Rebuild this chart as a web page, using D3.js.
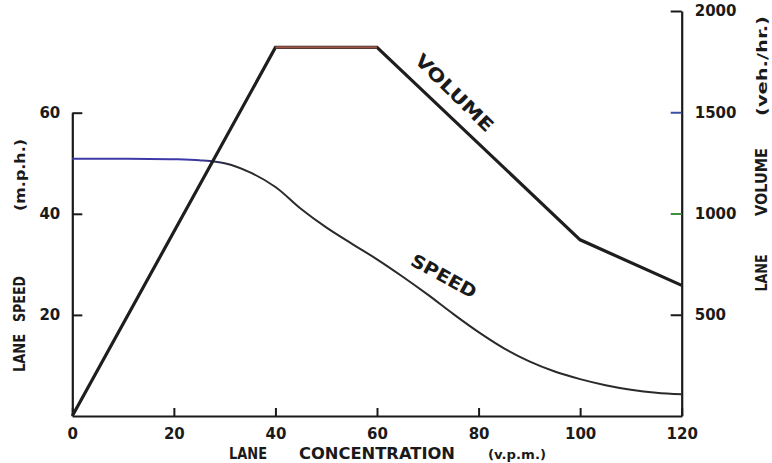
<!DOCTYPE html>
<html>
<head>
<meta charset="utf-8">
<script src="https://cdn.jsdelivr.net/npm/d3@7"></script>
<style>
  html, body { margin: 0; padding: 0; background: #fff; }
  svg { display: block; }
  text { font-family: "DejaVu Sans", sans-serif; font-weight: bold; fill: #1a1a1a; }
</style>
</head>
<body>
<svg id="chart" width="772" height="463"></svg>
<script>
// Lane volume (veh./hr.) against lane concentration (v.p.m.)
const volumeConcentration = [0, 40, 60, 100, 120];
const volumeValues = [0, 1820, 1820, 870, 645];

// Lane speed (m.p.h.) against lane concentration (v.p.m.)
const speedConcentration = [0, 10, 20, 25, 30, 35, 40, 45, 50, 55, 60, 65, 70, 75, 80, 85, 90, 95, 100, 105, 110, 115, 120];
const speedValues = [50.9, 50.9, 50.8, 50.6, 50.0, 48.2, 45.3, 41.0, 37.3, 34.1, 31.0, 27.6, 24.0, 20.2, 16.6, 13.4, 10.8, 8.8, 7.3, 6.1, 5.2, 4.6, 4.3];

// Axis ticks
const concentrationTicks = [0, 20, 40, 60, 80, 100, 120];
const speedTicks = [20, 40, 60];
const volumeTicks = [500, 1000, 1500, 2000];

const svg = d3.select("#chart");

const x = d3.scaleLinear().domain([0, 120]).range([72.3, 681.7]);
const ySpeed = d3.scaleLinear().domain([0, 60]).range([416, 112.7]);
const yVolume = d3.scaleLinear().domain([0, 2000]).range([416, 11]);

const ink = "#1a1a1a";

// ---- axes ----
const bottomAxis = d3.axisBottom(x).tickValues(concentrationTicks)
  .tickSizeInner(-8).tickSizeOuter(0).tickPadding(12).tickFormat(d3.format("d"));
const leftAxis = d3.axisLeft(ySpeed).tickValues(speedTicks)
  .tickSizeInner(-10).tickSizeOuter(0).tickPadding(12).tickFormat(d3.format("d"));
const rightAxis = d3.axisRight(yVolume).tickValues(volumeTicks)
  .tickSizeInner(-11).tickSizeOuter(0).tickPadding(13).tickFormat(d3.format("d"));

function styleAxis(g) {
  g.select(".domain").attr("stroke", ink).attr("stroke-width", 2.2);
  g.selectAll(".tick line").attr("stroke", ink).attr("stroke-width", 2);
  g.selectAll(".tick text").attr("fill", ink)
    .style("font-family", "'DejaVu Sans', sans-serif")
    .style("font-weight", "bold").style("font-size", "15px");
}

svg.append("g").attr("transform", `translate(0,${ySpeed(0)})`).call(bottomAxis).call(styleAxis);
svg.append("g").attr("transform", `translate(${x(0)},0)`).call(leftAxis).call(styleAxis);
const rightG = svg.append("g").attr("transform", `translate(${x(120)},0)`).call(rightAxis).call(styleAxis);

// tinted ticks on the volume scale
const tickTint = { 1500: ["#3b4fa0", "#1d2552"], 1000: ["#3f8f3f", "#1f4d22"] };
rightG.selectAll(".tick").each(function(d) {
  if (tickTint[d]) {
    d3.select(this).select("line").attr("stroke", tickTint[d][0]);
    d3.select(this).select("text").attr("fill", tickTint[d][1]);
  }
});

// ---- speed curve ----
const speedData = speedConcentration.map((c, i) => ({ c, v: speedValues[i] }));
const defs = svg.append("defs");
const grad = defs.append("linearGradient").attr("id", "speedInk")
  .attr("gradientUnits", "userSpaceOnUse")
  .attr("x1", x(0)).attr("x2", x(120)).attr("y1", 0).attr("y2", 0);
grad.append("stop").attr("offset", 0).attr("stop-color", "#3d3aa8");
grad.append("stop").attr("offset", (x(24) - x(0)) / (x(120) - x(0))).attr("stop-color", "#3d3aa8");
grad.append("stop").attr("offset", (x(31) - x(0)) / (x(120) - x(0))).attr("stop-color", "#2a2a2e");
grad.append("stop").attr("offset", 1).attr("stop-color", "#2a2a2a");

svg.append("path")
  .datum(speedData)
  .attr("fill", "none")
  .attr("stroke", "url(#speedInk)")
  .attr("stroke-width", 2)
  .attr("d", d3.line().x(d => x(d.c)).y(d => ySpeed(d.v)).curve(d3.curveCatmullRom.alpha(0.5)));

// ---- volume polyline ----
const volumeData = volumeConcentration.map((c, i) => ({ c, v: volumeValues[i] }));
const volumeLine = d3.line().x(d => x(d.c)).y(d => yVolume(d.v));
svg.append("path")
  .datum(volumeData)
  .attr("fill", "none")
  .attr("stroke", "#1e1e1e")
  .attr("stroke-width", 3.2)
  .attr("stroke-linejoin", "miter")
  .attr("d", volumeLine);

// capacity plateau drawn with its own ink
const peak = d3.max(volumeValues);
svg.append("path")
  .datum(volumeData.filter(d => d.v === peak))
  .attr("fill", "none")
  .attr("stroke", "#9a5446")
  .attr("stroke-width", 2.2)
  .attr("d", volumeLine);

// ---- curve labels ----
function slanted(label, cx, cy, angle, size, len) {
  svg.append("text")
    .attr("transform", `translate(${cx},${cy}) rotate(${angle})`)
    .attr("text-anchor", "middle")
    .attr("dy", "0.36em")
    .attr("textLength", len)
    .attr("lengthAdjust", "spacingAndGlyphs")
    .style("font-size", size + "px")
    .text(label);
}
slanted("VOLUME", 454.5, 92.7, 44.6, 18, 102);
slanted("SPEED", 444, 276, 28.7, 18, 72);

// ---- axis titles ----
function word(label, cx, cy, size, len, rotate) {
  svg.append("text")
    .attr("transform", `translate(${cx},${cy})` + (rotate ? " rotate(-90)" : ""))
    .attr("text-anchor", "middle")
    .attr("textLength", len)
    .attr("lengthAdjust", "spacingAndGlyphs")
    .style("font-size", size + "px")
    .text(label);
}
// bottom
word("LANE", 248, 459, 15, 38, false);
word("CONCENTRATION", 377, 459, 15, 156, false);
word("(v.p.m.)", 517, 459, 12, 58, false);
// left
word("LANE", 25, 353, 15, 38, true);
word("SPEED", 25, 299, 15, 46, true);
word("(m.p.h.)", 25, 175, 14, 72, true);
// right
word("LANE", 767, 273, 15, 37, true);
word("VOLUME", 767, 182, 15, 68, true);
word("(veh./hr.)", 767, 66, 14, 100, true);
</script>
</body>
</html>
